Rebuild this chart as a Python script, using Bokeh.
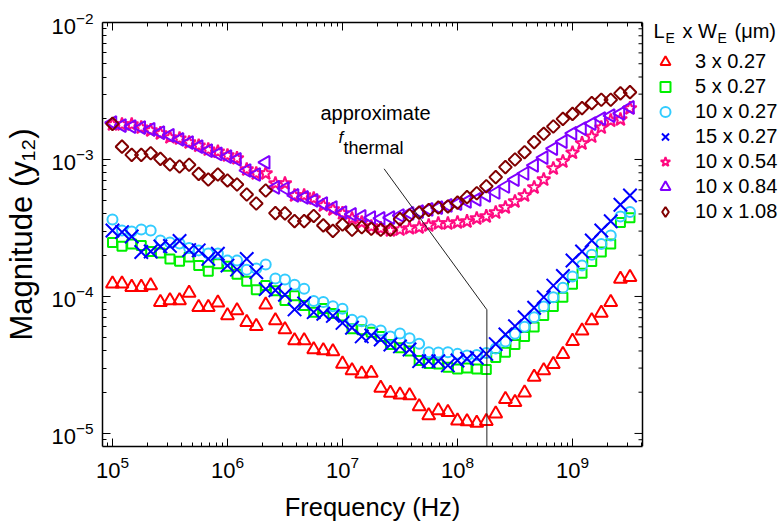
import math
from bokeh.plotting import figure
from bokeh.models import (Range1d, LogAxis, FixedTicker, Legend, LegendItem, Label, Span,
                          Title, CustomJSTickFormatter, LogTickFormatter)
from bokeh.embed import file_html
from bokeh.resources import INLINE

FONT = "Liberation Sans"

# ---------------- data ----------------
FREQ_HZ = [
    1.00e5, 1.21e5, 1.47e5, 1.78e5, 2.15e5, 2.61e5, 3.16e5, 3.83e5, 4.64e5, 5.62e5, 6.81e5, 8.25e5,
    1.00e6, 1.21e6, 1.47e6, 1.78e6, 2.15e6, 2.61e6, 3.16e6, 3.83e6, 4.64e6, 5.62e6, 6.81e6, 8.25e6,
    1.00e7, 1.21e7, 1.47e7, 1.78e7, 2.15e7, 2.61e7, 3.16e7, 3.83e7, 4.64e7, 5.62e7, 6.81e7, 8.25e7,
    1.00e8, 1.21e8, 1.47e8, 1.78e8, 2.15e8, 2.61e8, 3.16e8, 3.83e8, 4.64e8, 5.62e8, 6.81e8, 8.25e8,
    1.00e9, 1.21e9, 1.47e9, 1.78e9, 2.15e9, 2.61e9, 3.16e9,
]

Y12_3x027 = [
    1.24e-4, 1.24e-4, 1.17e-4, 1.17e-4, 1.20e-4, 9.08e-5, 9.35e-5, 9.35e-5, 1.06e-4, 8.35e-5, 8.35e-5, 8.99e-5,
    7.27e-5, 7.90e-5, 6.49e-5, 6.07e-5, 8.70e-5, 6.68e-5, 5.74e-5, 4.77e-5, 4.77e-5, 4.10e-5, 4.04e-5, 3.97e-5,
    3.22e-5, 2.88e-5, 2.73e-5, 2.76e-5, 2.15e-5, 1.97e-5, 1.92e-5, 1.89e-5, 1.57e-5, 1.35e-5, 1.47e-5, 1.43e-5,
    1.24e-5, 1.22e-5, 1.19e-5, 1.23e-5, 1.39e-5, 1.78e-5, 1.69e-5, 1.98e-5, 2.58e-5, 2.88e-5, 3.20e-5, 3.79e-5,
    4.72e-5, 5.61e-5, 6.68e-5, 7.58e-5, 9.08e-5, 1.34e-4, 1.38e-4,
]
Y12_5x027 = [
    2.48e-4, 2.33e-4, 2.42e-4, 2.36e-4, 2.13e-4, 2.08e-4, 1.88e-4, 1.81e-4, 1.94e-4, 1.68e-4, 1.53e-4, 1.73e-4,
    1.66e-4, 1.45e-4, 1.29e-4, 1.12e-4, 1.20e-4, 1.10e-4, 9.35e-5, 1.01e-4, 8.60e-5, 7.68e-5, 8.17e-5, 7.51e-5,
    7.21e-5, 5.81e-5, 5.71e-5, 5.49e-5, 5.11e-5, 4.46e-5, 4.22e-5, 3.99e-5, 3.41e-5, 3.24e-5, 3.22e-5, 3.04e-5,
    2.96e-5, 3.00e-5, 2.96e-5, 2.93e-5, 3.59e-5, 3.92e-5, 4.46e-5, 5.11e-5, 5.99e-5, 7.27e-5, 8.45e-5, 9.88e-5,
    1.23e-4, 1.48e-4, 1.80e-4, 2.11e-4, 2.42e-4, 3.47e-4, 3.75e-4,
]
Y12_10x027 = [
    3.65e-4, 3.03e-4, 2.98e-4, 3.08e-4, 3.03e-4, 2.56e-4, 2.48e-4, 2.44e-4, 2.26e-4, 2.17e-4, 2.06e-4, 2.06e-4,
    1.83e-4, 1.83e-4, 1.57e-4, 1.60e-4, 1.71e-4, 1.35e-4, 1.33e-4, 1.22e-4, 1.14e-4, 9.27e-5, 9.12e-5, 8.50e-5,
    8.13e-5, 6.77e-5, 6.60e-5, 5.74e-5, 5.65e-5, 5.11e-5, 5.37e-5, 4.95e-5, 4.52e-5, 3.92e-5, 3.90e-5, 3.92e-5,
    3.81e-5, 3.71e-5, 3.74e-5, 3.87e-5, 4.17e-5, 4.69e-5, 5.34e-5, 6.01e-5, 7.06e-5, 8.45e-5, 9.88e-5, 1.16e-4,
    1.40e-4, 1.68e-4, 2.02e-4, 2.42e-4, 2.79e-4, 3.84e-4, 4.13e-4,
]
Y12_15x027 = [
    3.03e-4, 2.95e-4, 2.74e-4, 2.11e-4, 2.13e-4, 2.32e-4, 2.34e-4, 2.54e-4, 2.18e-4, 2.17e-4, 1.88e-4, 2.05e-4,
    1.68e-4, 1.57e-4, 1.88e-4, 1.50e-4, 1.13e-4, 1.11e-4, 1.03e-4, 8.04e-5, 8.89e-5, 7.68e-5, 7.48e-5, 7.21e-5,
    6.41e-5, 5.91e-5, 5.11e-5, 5.19e-5, 4.85e-5, 4.46e-5, 4.32e-5, 4.10e-5, 3.37e-5, 3.37e-5, 3.37e-5, 3.14e-5,
    3.41e-5, 3.51e-5, 3.57e-5, 3.81e-5, 4.49e-5, 5.28e-5, 6.07e-5, 7.06e-5, 8.27e-5, 9.88e-5, 1.20e-4, 1.41e-4,
    1.83e-4, 2.13e-4, 2.56e-4, 3.03e-4, 3.54e-4, 4.67e-4, 5.46e-4,
]
Y12_10x054 = [
    1.80e-3, 1.80e-3, 1.80e-3, 1.71e-3, 1.63e-3, 1.55e-3, 1.45e-3, 1.42e-3, 1.33e-3, 1.26e-3, 1.18e-3, 1.14e-3,
    1.07e-3, 1.02e-3, 8.45e-4, 7.90e-4, 7.90e-4, 6.68e-4, 6.68e-4, 5.46e-4, 5.46e-4, 5.19e-4, 4.62e-4, 4.32e-4,
    4.04e-4, 3.71e-4, 3.47e-4, 3.24e-4, 3.14e-4, 3.03e-4, 3.08e-4, 3.14e-4, 3.19e-4, 3.30e-4, 3.41e-4, 3.41e-4,
    3.47e-4, 3.53e-4, 3.71e-4, 3.84e-4, 4.10e-4, 4.46e-4, 4.94e-4, 5.46e-4, 6.25e-4, 7.14e-4, 8.60e-4, 9.67e-4,
    1.12e-3, 1.31e-3, 1.47e-3, 1.71e-3, 1.92e-3, 1.96e-3, 2.36e-3,
]
Y12_10x084 = [
    1.86e-3, 1.77e-3, 1.74e-3, 1.71e-3, 1.66e-3, 1.57e-3, 1.50e-3, 1.40e-3, 1.33e-3, 1.24e-3, 1.16e-3, 1.10e-3,
    1.05e-3, 1.00e-3, 8.31e-4, 7.77e-4, 9.51e-4, 6.25e-4, 6.14e-4, 5.46e-4, 5.28e-4, 5.02e-4, 4.77e-4, 4.46e-4,
    4.10e-4, 3.97e-4, 3.84e-4, 3.77e-4, 3.71e-4, 3.77e-4, 3.90e-4, 4.04e-4, 4.17e-4, 4.32e-4, 4.46e-4, 4.62e-4,
    4.77e-4, 4.94e-4, 5.11e-4, 5.46e-4, 5.74e-4, 6.35e-4, 7.14e-4, 7.90e-4, 9.04e-4, 1.03e-3, 1.20e-3, 1.35e-3,
    1.55e-3, 1.68e-3, 1.83e-3, 1.99e-3, 2.09e-3, 2.17e-3, 2.40e-3,
]
Y12_10x108 = [
    1.82e-3, 1.24e-3, 1.08e-3, 1.08e-3, 1.11e-3, 1.01e-3, 9.19e-4, 8.89e-4, 9.15e-4, 7.86e-4, 7.14e-4, 7.77e-4,
    7.03e-4, 6.57e-4, 5.55e-4, 4.77e-4, 5.94e-4, 4.06e-4, 4.04e-4, 3.55e-4, 3.55e-4, 3.87e-4, 3.30e-4, 3.01e-4,
    3.35e-4, 3.07e-4, 3.20e-4, 3.12e-4, 3.07e-4, 3.07e-4, 3.67e-4, 3.90e-4, 4.09e-4, 4.28e-4, 4.46e-4, 4.54e-4,
    4.84e-4, 5.31e-4, 5.67e-4, 6.38e-4, 7.43e-4, 8.79e-4, 1.00e-3, 1.13e-3, 1.34e-3, 1.54e-3, 1.74e-3, 1.98e-3,
    2.15e-3, 2.37e-3, 2.58e-3, 2.73e-3, 2.73e-3, 3.04e-3, 3.10e-3,
]

SERIES_LABELS = ["3 x 0.27", "5 x 0.27", "10 x 0.27", "15 x 0.27", "10 x 0.54", "10 x 0.84", "10 x 1.08"]
SERIES_VALUES = [Y12_3x027, Y12_5x027, Y12_10x027, Y12_15x027, Y12_10x054, Y12_10x084, Y12_10x108]

# approximate f_thermal pointer line (frequency, magnitude)
THERMAL_F = [2.3e7, 1.8e8, 1.8e8]
THERMAL_Y = [8.55e-4, 8.0e-5, 8.03e-6]

X_MAJOR = [1e5, 1e6, 1e7, 1e8, 1e9]
Y_MAJOR = [1e-5, 1e-4, 1e-3, 1e-2]
X_LIMITS = (8.19e4, 4.06e9)
Y_LIMITS = (8.03e-6, 1e-2)

# ---------------- styles ----------------
STYLES = [
    dict(marker="triangle", color="#FF0000", size=13, angle=0.0, legend_marker=None),
    dict(marker="square", color="#00F000", size=9, angle=0.0, legend_marker=None),
    dict(marker="circle", color="#33CCFF", size=10, angle=0.0, legend_marker=None),
    dict(marker="x", color="#0000FF", size=19, angle=0.0, legend_marker=None),
    dict(marker="star", color="#FF0A80", size=14, angle=0.0, legend_marker=None),
    dict(marker="triangle", color="#8000FF", size=13, angle=math.pi / 2, legend_marker=None),
    dict(marker="square", color="#800000", size=9, angle=math.pi / 4, legend_marker="diamond"),
]

W, H = 783, 525
FL, FT, FB = 102, 22, 446          # frame left/top/bottom (page px)
VIS_R = 642.0                      # right edge of the drawn box (page px)
FRAME_R = 783                      # frame extends to canvas edge to host the legend
px_per_dec = (VIS_R - FL) / (math.log10(X_LIMITS[1]) - math.log10(X_LIMITS[0]))
x_end = 10 ** (math.log10(X_LIMITS[1]) + (FRAME_R - VIS_R) / px_per_dec)

p = figure(width=W, height=H, x_axis_type="log", y_axis_type="log",
           x_range=Range1d(X_LIMITS[0], x_end), y_range=Range1d(*Y_LIMITS),
           output_backend="svg", toolbar_location=None,
           min_border_left=FL, min_border_right=W - FRAME_R,
           min_border_top=FT, min_border_bottom=H - FB)
p.grid.visible = False
p.outline_line_color = None
p.background_fill_color = "white"
p.border_fill_color = "white"

xminor = [m * 10.0 ** k for k in range(4, 10) for m in range(2, 10)
          if X_LIMITS[0] <= m * 10.0 ** k <= X_LIMITS[1]]
yminor = [m * 10.0 ** k for k in range(-6, -2) for m in range(2, 10)
          if Y_LIMITS[0] <= m * 10.0 ** k <= Y_LIMITS[1]]
xt = FixedTicker(ticks=X_MAJOR, minor_ticks=xminor)
yt = FixedTicker(ticks=Y_MAJOR, minor_ticks=yminor)


def style_axis(ax):
    ax.major_tick_in = 8
    ax.major_tick_out = 0
    ax.minor_tick_in = 4
    ax.minor_tick_out = 0
    ax.major_tick_line_color = "black"
    ax.minor_tick_line_color = "black"
    ax.major_tick_line_width = 1
    ax.minor_tick_line_width = 1
    ax.axis_line_color = "black"
    ax.axis_line_width = 1.5
    ax.major_label_text_font = FONT
    ax.major_label_text_font_size = "22px"
    ax.major_label_text_color = "black"


p.xaxis.ticker = xt
p.yaxis.ticker = yt
p.xaxis.formatter = LogTickFormatter()
p.yaxis.formatter = LogTickFormatter()
p.xaxis.bounds = X_LIMITS
for ax in p.xaxis:
    style_axis(ax)
    ax.major_label_standoff = 9
for ax in p.yaxis:
    style_axis(ax)
    ax.major_label_standoff = 9
    ax.axis_label = "Magnitude (y\u2081\u2082)"
    ax.axis_label_text_font = FONT
    ax.axis_label_text_font_size = "31px"
    ax.axis_label_text_font_style = "normal"
    ax.axis_label_text_color = "black"
    ax.axis_label_standoff = 9

top = LogAxis(ticker=xt, formatter=CustomJSTickFormatter(code="return ''"), bounds=X_LIMITS)
style_axis(top)
top.major_label_text_font_size = "1px"
top.major_label_standoff = 0
p.add_layout(top, "above")

# right edge of the box, with inward ticks
p.add_layout(Span(location=X_LIMITS[1], dimension="height", line_color="black", line_width=1.5))
p.ray(x=[X_LIMITS[1]] * len(Y_MAJOR), y=Y_MAJOR, length=8, length_units="screen",
      angle=math.pi, line_color="black", line_width=1)
p.ray(x=[X_LIMITS[1]] * len(yminor), y=yminor, length=4, length_units="screen",
      angle=math.pi, line_color="black", line_width=1)

# x-axis title, centred under the drawn box (a thin spacer pushes it down a little)
XT_SIZE = 25.5
xt_width = 6.89 * XT_SIZE
p.add_layout(Title(text=" ", text_font_size="1px", standoff=6), "below")
p.add_layout(Title(text="Frequency (Hz)", align="left", offset=(FL + VIS_R) / 2 - xt_width / 2 - FL,
                   text_font=FONT, text_font_size=f"{XT_SIZE}px", text_font_style="normal",
                   text_color="black", standoff=5, vertical_align="middle"), "below")

items = []
for lab_, vals, st in zip(SERIES_LABELS, SERIES_VALUES, STYLES):
    r = p.scatter(x=FREQ_HZ, y=vals, marker=st["marker"], size=st["size"], angle=st["angle"],
                  line_color=st["color"], fill_color=None, line_width=2)
    leg_r = r
    if st["legend_marker"] is not None:
        leg_r = p.scatter(x=[float("nan")], y=[float("nan")], marker=st["legend_marker"],
                          size=st["size"], line_color=st["color"], fill_color=None, line_width=2)
    items.append(LegendItem(label=lab_, renderers=[leg_r]))

p.line(x=THERMAL_F, y=THERMAL_Y, line_color="#222222", line_width=1)

# legend (right of the drawn box, inside the extended frame)
ROW = 25
LEG_LEFT, LEG_TOP, LEG_H = 650.0, 61.0 - ROW / 2, 7 * ROW
leg = Legend(items=items, location=(LEG_LEFT - FL, FB - (LEG_TOP + LEG_H)),
             glyph_width=30, glyph_height=ROW, spacing=0, padding=0, margin=0,
             label_standoff=15, label_height=20, label_text_font=FONT,
             label_text_font_size="20px", label_text_color="black",
             border_line_color=None, background_fill_alpha=0)
p.add_layout(leg)


def lab(text, X, Y, size, align="left", angle=0.0, style="normal"):
    p.add_layout(Label(x=X - FL, y=FB - Y, x_units="screen", y_units="screen", text=text,
                       text_font=FONT, text_font_size=f"{size}px", text_align=align,
                       text_baseline="middle", angle=angle, text_color="black",
                       text_font_style=style))


# legend title  L_E x W_E (μm)
lab("L", 653, 30, 20)
lab("E", 665, 37, 14)
lab("x W", 682, 30, 20)
lab("E", 717, 37, 14)
lab("(\u03bcm)", 734, 30, 20)

# annotation
lab("approximate", 320, 112, 20)
lab("f", 338, 137, 17, style="italic")
lab("thermal", 343, 147, 18)

open("out.html", "w").write(file_html(p, INLINE))
